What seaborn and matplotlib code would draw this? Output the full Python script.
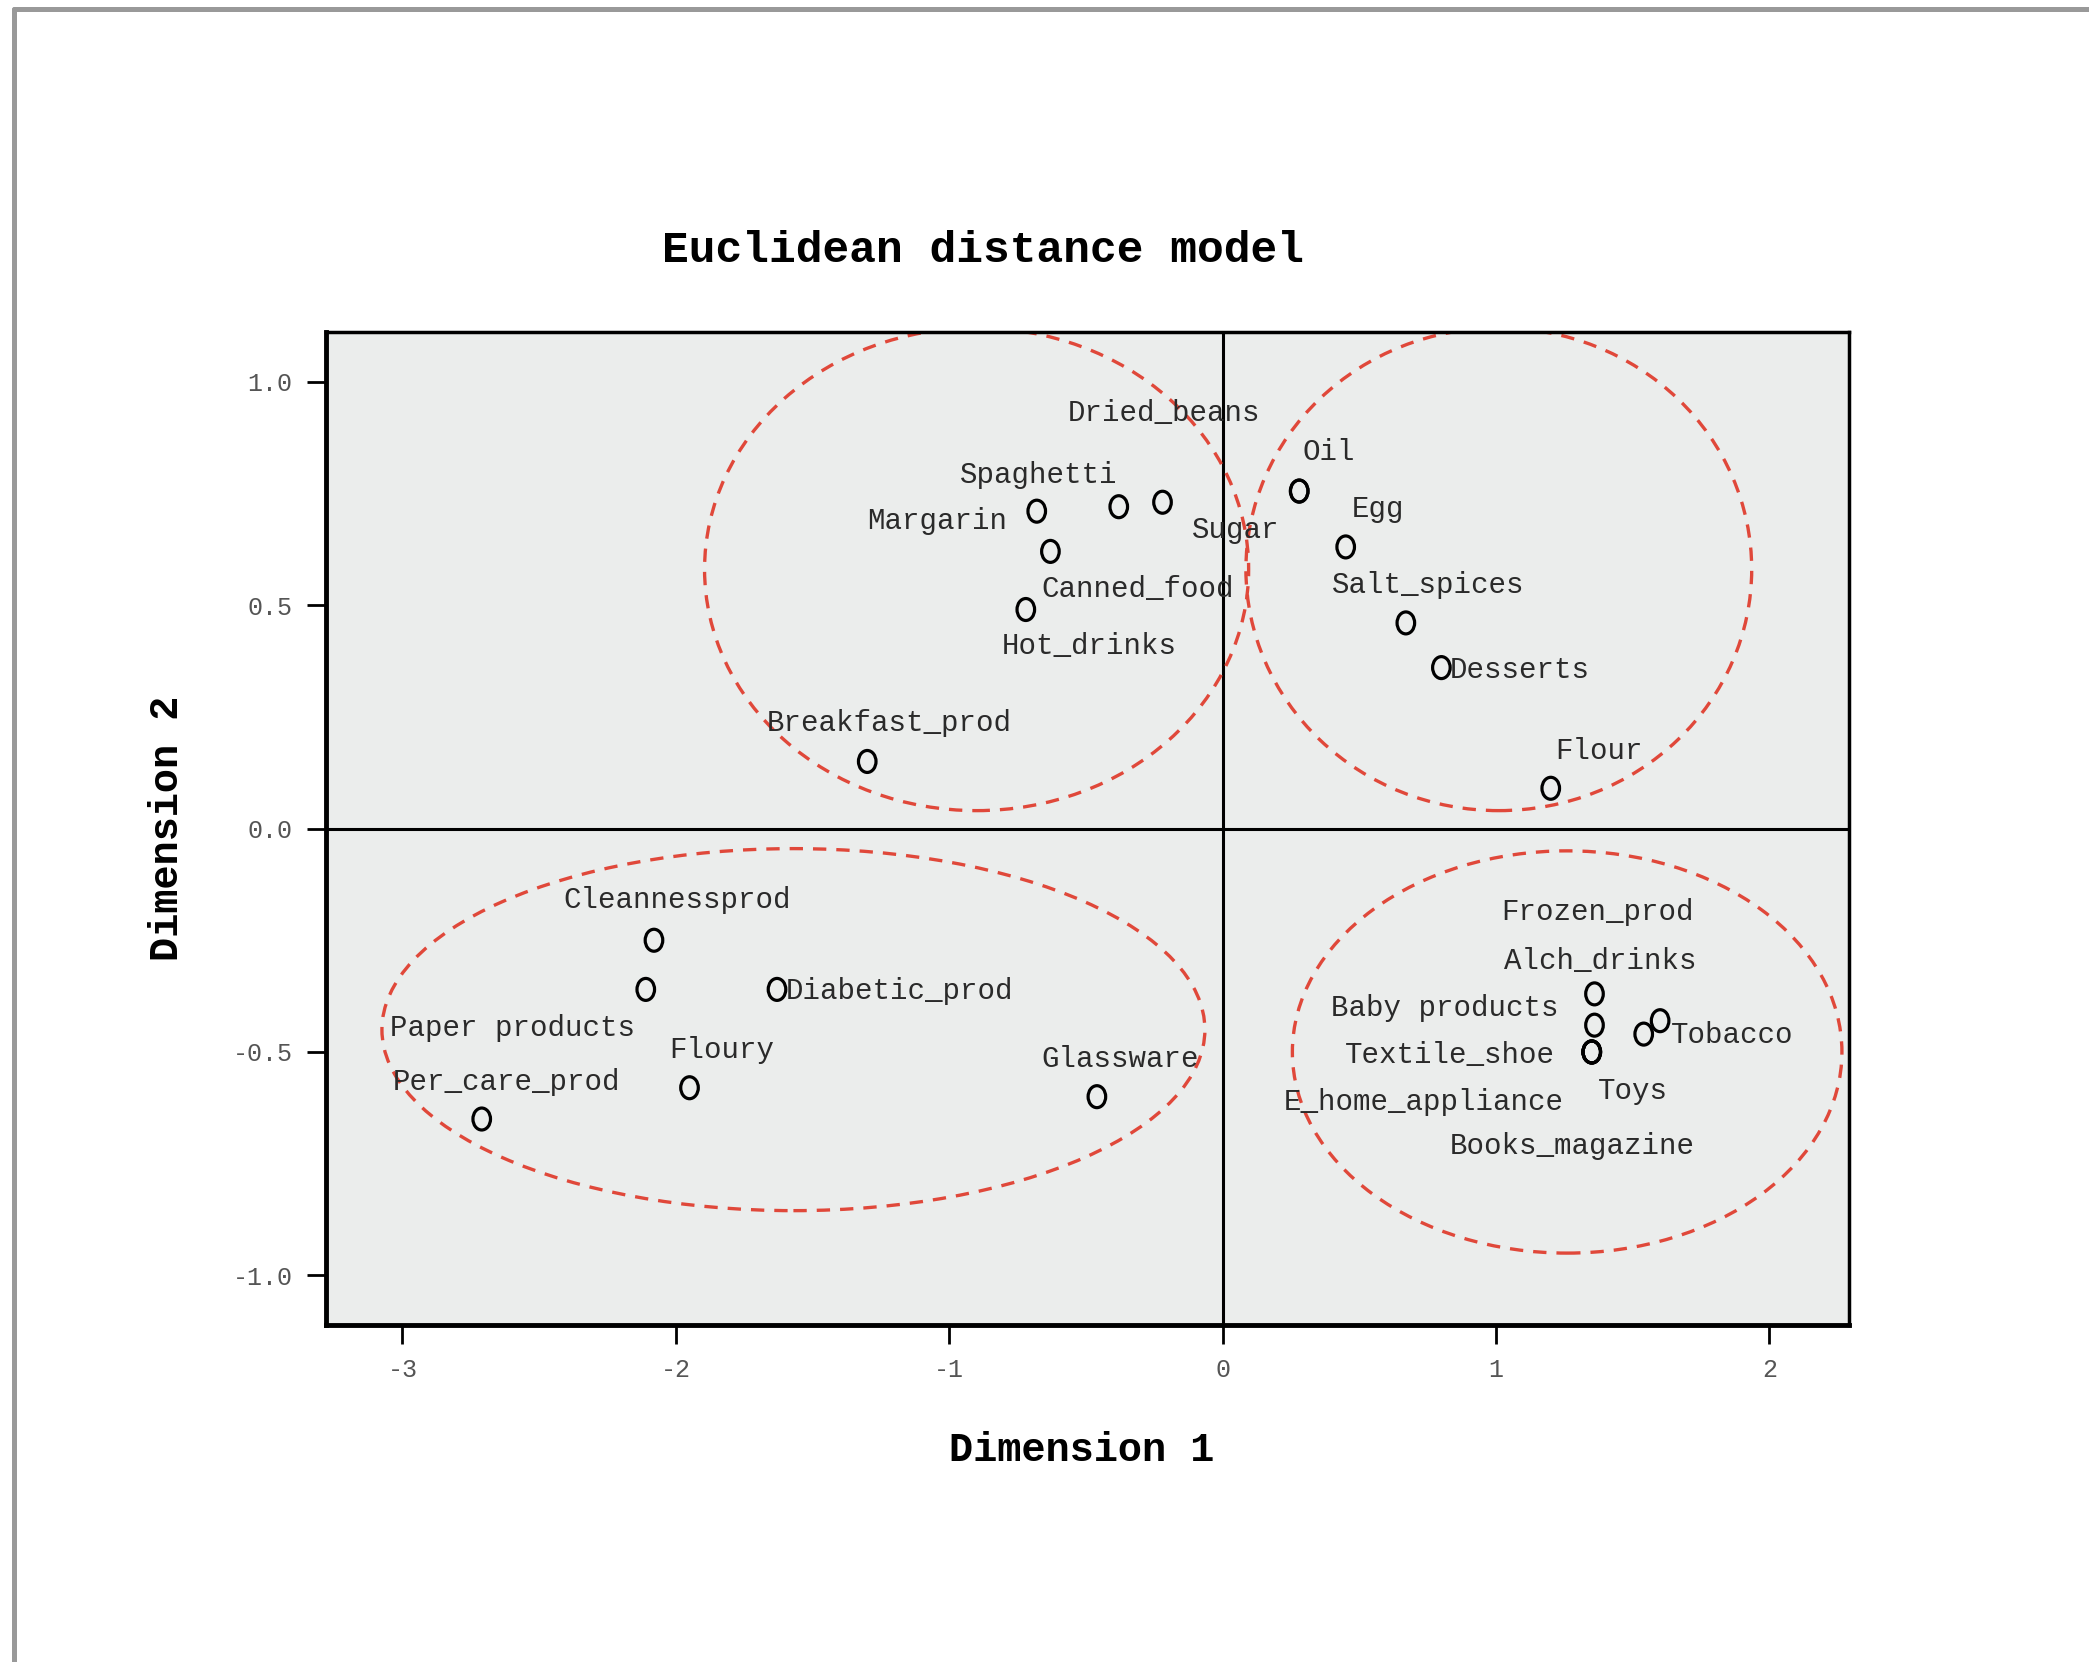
# -*- coding: utf-8 -*-
import numpy as np
import pandas as pd
import matplotlib
matplotlib.use("Agg")
import matplotlib.pyplot as plt
import seaborn as sns

from matplotlib.patches import Ellipse
from matplotlib.lines import Line2D
from matplotlib.path import Path


# MDS coordinates
products = ["Dried_beans", "Spaghetti", "Margarin", "Canned_food", "Hot_drinks", "Breakfast_prod",
            "Sugar", "Oil", "Egg", "Salt_spices", "Desserts", "Flour",
            "Cleannessprod", "Paper products", "Diabetic_prod", "Floury", "Per_care_prod", "Glassware",
            "Frozen_prod", "Alch_drinks", "Baby products", "Textile_shoe", "Toys",
            "E_home_appliance", "Books_magazine", "Tobacco"]
dim1 = [-0.22, -0.38, -0.68, -0.63, -0.72, -1.30,
        0.28, 0.28, 0.45, 0.67, 0.80, 1.20,
        -2.08, -2.11, -1.63, -1.95, -2.71, -0.46,
        1.36, 1.36, 1.35, 1.35, 1.54,
        1.35, 1.35, 1.60]
dim2 = [0.73, 0.72, 0.71, 0.62, 0.49, 0.15,
        0.755, 0.755, 0.63, 0.46, 0.36, 0.09,
        -0.25, -0.36, -0.36, -0.58, -0.65, -0.60,
        -0.37, -0.44, -0.50, -0.50, -0.46,
        -0.50, -0.50, -0.43]

# label placement (offset points, ha)
label_pos = {
    "Dried_beans": (1, 64, "center"), "Spaghetti": (-58, 23, "center"),
    "Margarin": (-72, -7, "center"), "Canned_food": (63, -27, "center"),
    "Hot_drinks": (46, -26, "center"), "Breakfast_prod": (16, 28, "center"),
    "Sugar": (-46, -28, "center"), "Oil": (21, 28, "center"),
    "Egg": (23, 27, "center"), "Salt_spices": (16, 27, "center"),
    "Desserts": (6, -2, "left"), "Flour": (35, 27, "center"),
    "Cleannessprod": (17, 29, "center"), "Paper products": (-96, -28, "center"),
    "Diabetic_prod": (6, -1, "left"), "Floury": (23, 27, "center"),
    "Per_care_prod": (18, 27, "center"), "Glassware": (17, 27, "center"),
    "Frozen_prod": (2, 59, "center"), "Alch_drinks": (4, 46, "center"),
    "Baby products": (-106, 32, "center"), "Textile_shoe": (-102, -2, "center"),
    "Toys": (-8, -41, "center"), "E_home_appliance": (-121, -36, "center"),
    "Books_magazine": (-14, -68, "center"), "Tobacco": (8, -10, "left"),
}

# dashed cluster outlines: centre x, centre y, width, height
clusters = [(-0.90, 0.58, 1.99, 1.08), (1.01, 0.58, 1.85, 1.08),
            (-1.57, -0.45, 3.01, 0.81), (1.26, -0.50, 2.01, 0.90)]

xticks = [-3, -2, -1, 0, 1, 2]
yticks = [-1.0, -0.5, 0.0, 0.5, 1.0]

df = pd.DataFrame({"product": products, "Dimension 1": dim1, "Dimension 2": dim2})

sns.set_theme(style="white")
plt.rcParams["font.family"] = ["Liberation Mono", "DejaVu Sans Mono"]

# SPSS draws the points as a letter "O": a slightly tall ellipse
circ = Path.unit_circle()
o_marker = Path(circ.vertices * np.array([0.8, 1.0]), circ.codes)

fig = plt.figure(figsize=(20.89, 16.62), dpi=100)
ax = fig.add_axes([0.156, 0.203, 0.729, 0.597])
ax.set_facecolor("#ebedec")

ax.axhline(0, color="black", lw=2.2, zorder=1)
ax.axvline(0, color="black", lw=2.2, zorder=1)

for cx, cy, w, h in clusters:
    ax.add_patch(Ellipse((cx, cy), w, h, fill=False, edgecolor="#e0483a",
                         lw=2.4, linestyle=(0, (4, 3)), zorder=2))

sns.scatterplot(data=df, x="Dimension 1", y="Dimension 2", ax=ax, marker=o_marker,
                s=250, facecolor="none", edgecolor="black", linewidth=2.3, zorder=3)

for name, x, y in zip(products, dim1, dim2):
    dx, dy, ha = label_pos[name]
    ax.annotate(name, (x, y), xytext=(dx, dy), textcoords="offset points",
                ha=ha, va="center", fontsize=21, color="#2a2a2a", zorder=4)

ax.set_xlim(-3.28, 2.29)
ax.set_ylim(-1.11, 1.11)
ax.set_xticks(xticks)
ax.set_xticklabels([str(t) for t in xticks])
ax.set_yticks(yticks)
ax.set_yticklabels(["%.1f" % t for t in yticks])
ax.tick_params(axis="both", direction="out", length=14, width=2, color="black",
               labelsize=18, labelcolor="#555555", bottom=True, left=True, pad=10)

for side in ["left", "bottom", "top", "right"]:
    ax.spines[side].set_color("black")
    ax.spines[side].set_linewidth(2.5)
ax.spines["bottom"].set_linewidth(3.5)
ax.spines["left"].set_linewidth(3.5)

ax.set_xlabel("Dimension 1", fontsize=29, fontweight="bold", color="black")
ax.set_ylabel("Dimension 2", fontsize=29, fontweight="bold", color="black")
ax.xaxis.set_label_coords(0.496, -0.107)
ax.yaxis.set_label_coords(-0.092, 0.5)

fig.text(0.4707, 0.849, "Euclidean distance model", ha="center", va="center",
         fontsize=32, fontweight="bold", color="black")

# grey frame on the top and left edges of the page
fig.add_artist(Line2D([0.0069, 0.0069], [0.0, 0.9943], color="#999999", lw=3.6))
fig.add_artist(Line2D([0.0069, 1.0], [0.9943, 0.9943], color="#999999", lw=3.6))

plt.savefig("out.png", dpi=100, facecolor="white")
